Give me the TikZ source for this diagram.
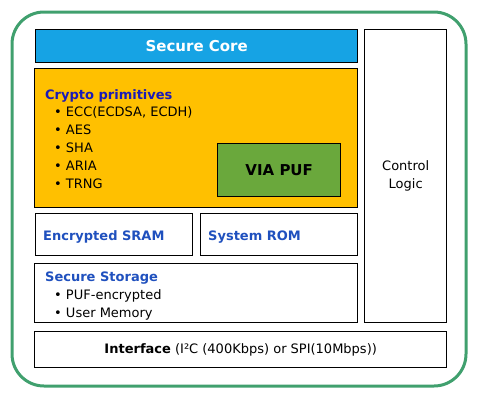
\documentclass[tikz,border=0pt]{standalone}
\usepackage{fontspec}
\setmainfont{DejaVu Sans}
\usetikzlibrary{positioning}
\definecolor{coreblue}{RGB}{22,163,228}
\definecolor{cryptoyellow}{RGB}{255,192,0}
\definecolor{pufgreen}{RGB}{106,168,60}
\definecolor{framegreen}{RGB}{64,160,110}
\definecolor{headnavy}{RGB}{26,26,184}
\definecolor{headblue}{RGB}{31,80,190}

\begin{document}
\begin{tikzpicture}[x=1pt, y=-1pt,
    blk/.style={draw=black, line width=1.4pt, inner sep=0pt, anchor=north west},
    head/.style={inner sep=0pt, anchor=base west, font=\fontsize{13}{16}\selectfont\bfseries},
    entry/.style={inner sep=0pt, anchor=base west, font=\fontsize{13}{16}\selectfont}]
    \useasboundingbox (0,0) rectangle (485,400);
    \draw[framegreen, line width=3pt, rounded corners=32pt] (12,12) rectangle (466,386);
    % blocks
    \node[blk, fill=coreblue, minimum width=322pt, minimum height=33pt, text=white,
          font=\fontsize{15}{18}\selectfont\bfseries] (core) at (35,29) {Secure Core};
    \node[blk, fill=cryptoyellow, minimum width=323pt, minimum height=139pt] (crypto) at (34,68) {};
    \node[blk, fill=pufgreen, minimum width=123pt, minimum height=53pt,
          font=\fontsize{15}{18}\selectfont\bfseries] (puf) at (217,143) {VIA PUF};
    \node[blk, minimum width=82pt, minimum height=293pt, align=center,
          font=\fontsize{13}{18}\selectfont] (ctrl) at (364,29) {Control\\Logic};
    \node[blk, minimum width=157pt, minimum height=42pt] (sram) at (35,213) {};
    \node[blk, minimum width=157pt, minimum height=42pt] (rom) at (200,213) {};
    \node[blk, minimum width=323pt, minimum height=59pt] (storage) at (34,263) {};
    \node[blk, minimum width=412pt, minimum height=36pt,
          font=\fontsize{13}{16}\selectfont] (iface) at (34,331) {\textbf{Interface} (I²C (400Kbps) or SPI(10Mbps))};
    % texts
    \node[head, text=headnavy] (cryptohead) at (45,99) {Crypto primitives};
    \foreach \txt [count=\i] in {{ECC(ECDSA, ECDH)}, AES, SHA, ARIA, TRNG} {
        \node[entry] at (54,99+\i*17.8) {• \txt};
    }
    \node[head, text=headblue] (sramhead) at (43,240) {Encrypted SRAM};
    \node[head, text=headblue] (romhead) at (208,240) {System ROM};
    \node[head, text=headblue] (storagehead) at (45,281) {Secure Storage};
    \node[entry] at (54,299) {• PUF-encrypted};
    \node[entry] at (54,317) {• User Memory};
\end{tikzpicture}
\end{document}
